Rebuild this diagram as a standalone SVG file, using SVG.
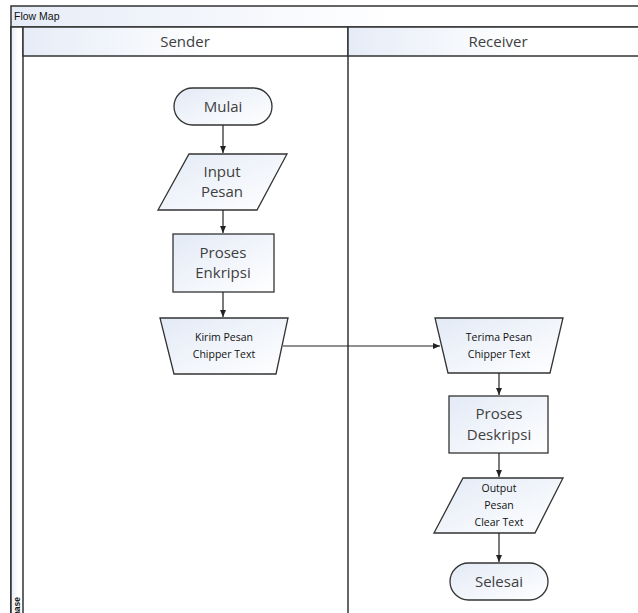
<svg xmlns="http://www.w3.org/2000/svg" width="638" height="613" viewBox="0 0 638 613">
<defs>
<linearGradient id="g" x1="0" y1="0" x2="1" y2="1">
<stop offset="0" stop-color="#e3eaf6"/>
<stop offset="1" stop-color="#ffffff"/>
</linearGradient>
<linearGradient id="h" x1="0" y1="0" x2="1" y2="0">
<stop offset="0" stop-color="#e6ecf7"/>
<stop offset="0.6" stop-color="#ffffff"/>
</linearGradient>
<marker id="a" markerWidth="8" markerHeight="8" refX="7" refY="4" orient="auto" markerUnits="userSpaceOnUse">
<path d="M0,1 L7,4 L0,7 z" fill="#222"/>
</marker>
<style>
.n{fill:url(#g);stroke:#333;stroke-width:1.3}
.t{font-family:"Open Sans","Liberation Sans",sans-serif;font-size:15px;fill:#404040;text-anchor:middle}
.s{font-family:"Open Sans","Liberation Sans",sans-serif;font-size:10.5px;fill:#111;text-anchor:middle}
.c{stroke:#222;stroke-width:1.2;fill:none;marker-end:url(#a)}
.f{stroke:#333;stroke-width:1.5;fill:none}
</style>
</defs>
<rect width="638" height="613" fill="#fff"/>
<g id="frame">
<rect x="11" y="6" width="640" height="620" fill="url(#h)" stroke="#333" stroke-width="1.5"/>
<rect x="11" y="27" width="640" height="600" fill="#fff" stroke="#333" stroke-width="1.5"/>
<rect x="11" y="27" width="12" height="600" fill="url(#h)" stroke="#333" stroke-width="1.5"/>
<text x="14" y="20" font-family="'Liberation Sans',sans-serif" font-size="10.5" fill="#111">Flow Map</text>
<text transform="translate(20,622) rotate(-90)" font-family="'Liberation Sans',sans-serif" font-size="8.5" font-weight="bold" fill="#111">Phase</text>
</g>
<g id="lane-sender">
<rect x="23" y="27" width="325" height="29" fill="url(#h)" stroke="#333" stroke-width="1.5"/>
<text class="t" x="185" y="47" font-size="16">Sender</text>
<line class="f" x1="348" y1="56" x2="348" y2="613"/>
</g>
<g id="lane-receiver">
<rect x="348" y="27" width="300" height="29" fill="url(#h)" stroke="#333" stroke-width="1.5"/>
<text class="t" x="498" y="47">Receiver</text>
</g>
<g id="mulai">
<rect class="n" x="174" y="88" width="98" height="37" rx="18.5"/>
<text class="t" x="223" y="112">Mulai</text>
</g>
<g id="input-pesan">
<polygon class="n" points="189,154 287,154 257,210 158,210"/>
<text class="t" x="222" y="177">Input</text>
<text class="t" x="222" y="197">Pesan</text>
</g>
<g id="proses-enkripsi">
<rect class="n" x="173" y="234" width="101" height="58"/>
<text class="t" x="223" y="258">Proses</text>
<text class="t" x="223" y="278">Enkripsi</text>
</g>
<g id="kirim">
<polygon class="n" points="160,318 288,318 276,374 174,374"/>
<text class="s" x="224" y="341">Kirim Pesan</text>
<text class="s" x="224" y="358">Chipper Text</text>
</g>
<g id="terima">
<polygon class="n" points="435,318 563,318 550,373 448,373"/>
<text class="s" x="499" y="341">Terima Pesan</text>
<text class="s" x="499" y="358">Chipper Text</text>
</g>
<g id="proses-deskripsi">
<rect class="n" x="449" y="396" width="99" height="57"/>
<text class="t" x="499" y="419">Proses</text>
<text class="t" x="499" y="440">Deskripsi</text>
</g>
<g id="output">
<polygon class="n" points="463,478 563,478 535,533 434,533"/>
<text class="s" x="499" y="492">Output</text>
<text class="s" x="499" y="509">Pesan</text>
<text class="s" x="499" y="526">Clear Text</text>
</g>
<g id="selesai">
<rect class="n" x="450" y="563" width="98" height="37" rx="18.5"/>
<text class="t" x="499" y="587">Selesai</text>
</g>
<g id="connectors">
<line class="c" x1="223" y1="125" x2="223" y2="153"/>
<line class="c" x1="223" y1="210" x2="223" y2="233"/>
<line class="c" x1="223" y1="292" x2="223" y2="317"/>
<line class="c" x1="283" y1="346" x2="440" y2="346"/>
<line class="c" x1="499" y1="373" x2="499" y2="395"/>
<line class="c" x1="499" y1="453" x2="499" y2="477"/>
<line class="c" x1="499" y1="533" x2="499" y2="562"/>
</g>
</svg>
